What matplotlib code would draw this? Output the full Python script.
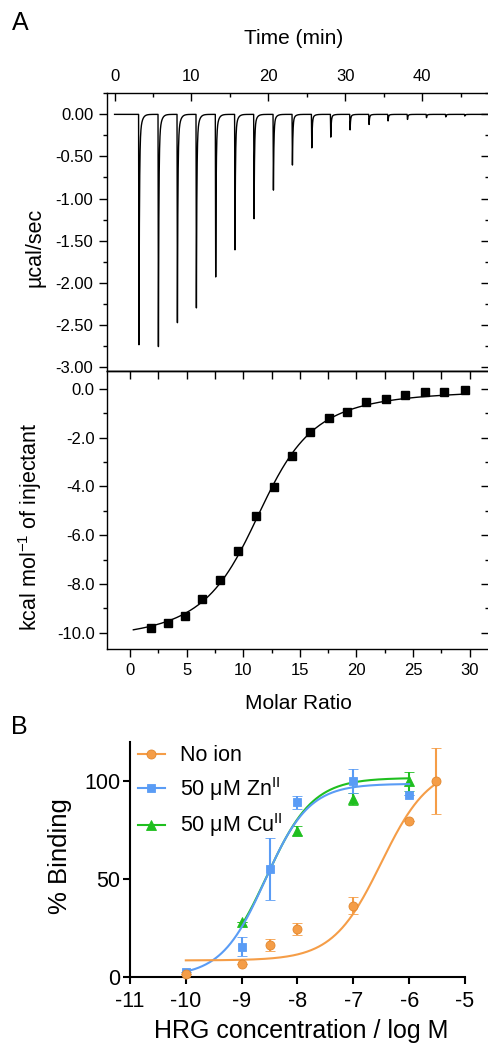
import numpy as np
import matplotlib
matplotlib.use('Agg')
import matplotlib.pyplot as plt
from matplotlib.ticker import MultipleLocator, FormatStrFormatter
from matplotlib.lines import Line2D

plt.rcParams['font.family'] = ['Liberation Sans', 'DejaVu Sans']
plt.rcParams['axes.unicode_minus'] = False
plt.rcParams['mathtext.fontset'] = 'custom'
plt.rcParams['mathtext.rm'] = 'Liberation Sans'

# ---- A: raw ITC thermogram (injection times in min, peak heights in ucal/sec)
inj_time = [3.12, 5.65, 8.12, 10.59, 13.10, 15.61, 18.09, 20.61, 23.08,
            25.60, 28.07, 30.58, 33.05, 35.52, 38.05, 40.52, 43.03, 45.50]
peak_depth = [-2.82, -2.76, -2.55, -2.30, -1.99, -1.61, -1.24, -0.90, -0.62,
              -0.41, -0.27, -0.19, -0.12, -0.08, -0.06, -0.04, -0.03, -0.02]

# ---- A: integrated heats
molar_ratio = [1.83, 3.36, 4.87, 6.37, 7.94, 9.53, 11.09, 12.68, 14.28,
               15.93, 17.55, 19.20, 20.86, 22.60, 24.31, 26.02, 27.73, 29.56]
heat = [-9.79, -9.59, -9.30, -8.62, -7.85, -6.65, -5.21, -4.04, -2.74,
        -1.76, -1.18, -0.94, -0.55, -0.41, -0.23, -0.12, -0.14, -0.05]
# one-site fit parameters (dH kcal/mol, n, 1/c)
fit_dH, fit_n, fit_r = -10.4, 11.9, 0.05

# ---- B: binding
logc_noion = [-10, -9, -8.5, -8, -7, -6, -5.52]
bind_noion = [1.4, 6.3, 16.2, 24.5, 36.3, 79.6, 100]
err_noion = [0, 0, 2.9, 3.0, 4.3, 0, 17]
logc_zn = [-10, -9, -8.5, -8, -7, -6]
bind_zn = [2.2, 15.3, 55.0, 89.1, 100, 92.7]
err_zn = [0, 4.9, 16, 3.4, 6.0, 0]
logc_cu = [-9, -8, -7, -6]
bind_cu = [27.8, 74.6, 90.8, 99.7]
err_cu = [0, 2.5, 3.2, 4.7]
# 4PL fits: bottom, top, logEC50, hill
fit_noion = (8.3, 108, -6.5, 1.0)
fit_zn = (0.0, 98.5, -8.58, 1.1)
fit_cu = (1.0, 101.5, -8.55, 1.05)

c_orange = '#F59D47'
c_blue = '#5A9CF5'
c_green = '#1FBF1F'

fig = plt.figure(figsize=(4.89, 10.43), dpi=100)

# ---------------- top: thermogram
ax1 = fig.add_axes([0.2194, 0.6443, 0.7806, 0.2662])
t = np.arange(0, 48.7, 0.004)
trace = np.zeros_like(t)
for ti, d in zip(inj_time, peak_depth):
    a = 0.05
    rise = (t >= ti) & (t < ti + a)
    trace[rise] += d * (t[rise] - ti) / a
    dec = t >= ti + a
    s = t[dec] - ti - a
    trace[dec] += d * (0.85 * np.exp(-s / 0.06) + 0.15 * np.exp(-s / 0.25))
ax1.plot(t, trace, color='k', lw=1.0)
ax1.set_xlim(-0.95, 48.7)
ax1.set_ylim(-3.05, 0.25)
ax1.xaxis.tick_top()
ax1.set_xticks([0, 10, 20, 30, 40])
ax1.xaxis.set_minor_locator(MultipleLocator(5))
ax1.yaxis.set_major_locator(MultipleLocator(0.5))
ax1.yaxis.set_minor_locator(MultipleLocator(0.25))
ax1.yaxis.set_major_formatter(FormatStrFormatter('%.2f'))
ax1.tick_params(axis='x', which='both', direction='in', top=True, bottom=False,
                labeltop=True, labelbottom=False, labelsize=12, pad=7)
ax1.tick_params(axis='y', which='both', direction='out', right=False, labelsize=12, pad=4)
ax1.tick_params(which='major', length=6, width=1)
ax1.tick_params(which='minor', length=3, width=1)
r1 = ax1.secondary_yaxis('right')
r1.yaxis.set_major_locator(MultipleLocator(0.5))
r1.yaxis.set_minor_locator(MultipleLocator(0.25))
r1.tick_params(which='both', direction='in', labelright=False, width=1)
r1.tick_params(which='major', length=6)
r1.tick_params(which='minor', length=3)
ax1.set_xlabel('Time (min)', fontsize=15, va='center')
ax1.xaxis.set_label_position('top')
ax1.xaxis.set_label_coords(0.488, 1.1775)
ax1.set_ylabel('µcal/sec', fontsize=15.5, va='center')
ax1.yaxis.set_label_coords(-0.1894, 0.4447)

# ---------------- bottom: integrated heats
ax2 = fig.add_axes([0.2194, 0.3775, 0.7806, 0.2668])
xf = np.linspace(0.3, 29.6, 300)
xr = xf / fit_n
yf = fit_dH * (0.5 + (1 - xr - fit_r) / (2 * np.sqrt((1 + xr + fit_r) ** 2 - 4 * xr)))
ax2.plot(xf, yf, color='k', lw=1.0)
ax2.plot(molar_ratio, heat, 's', color='k', ms=5.5)
ax2.set_xlim(-2.0, 31.7)
ax2.set_ylim(-10.68, 0.74)
ax2.xaxis.set_major_locator(MultipleLocator(5))
ax2.xaxis.set_minor_locator(MultipleLocator(2.5))
ax2.yaxis.set_major_locator(MultipleLocator(2))
ax2.yaxis.set_minor_locator(MultipleLocator(1))
ax2.yaxis.set_major_formatter(FormatStrFormatter('%.1f'))
ax2.tick_params(which='both', direction='out', labelsize=12)
ax2.tick_params(axis='x', pad=4)
ax2.tick_params(axis='y', pad=3)
ax2.tick_params(which='major', length=6, width=1)
ax2.tick_params(which='minor', length=3, width=1)
r2 = ax2.secondary_yaxis('right')
r2.yaxis.set_major_locator(MultipleLocator(2))
r2.yaxis.set_minor_locator(MultipleLocator(1))
r2.tick_params(which='both', direction='in', labelright=False, width=1)
r2.tick_params(which='major', length=6)
r2.tick_params(which='minor', length=3)
t2 = ax2.secondary_xaxis('top')
t2.xaxis.set_major_locator(MultipleLocator(5))
t2.xaxis.set_minor_locator(MultipleLocator(2.5))
t2.tick_params(which='both', direction='in', labeltop=False, width=1, length=6)
ax2.set_xlabel('Molar Ratio', fontsize=15, va='center')
ax2.xaxis.set_label_coords(0.502, -0.1955)
ax2.set_ylabel(r'kcal mol$^{\mathrm{-1}}$ of injectant', fontsize=15.5, va='center')
ax2.yaxis.set_label_coords(-0.2025, 0.4395)
for ax in (ax1, ax2, r1, r2, t2):
    for sp in ax.spines.values():
        sp.set_linewidth(1.0)

# ---------------- B: binding curves
ax3 = fig.add_axes([0.2658, 0.0636, 0.6851, 0.2253])


def four_pl(x, p):
    b, top, ec, h = p
    return b + (top - b) / (1 + 10 ** ((ec - x) * h))


series = [
    ('No ion', logc_noion, bind_noion, err_noion, fit_noion, c_orange, 'o', 6.5, 4),
    (r'50 $\mathrm{\mu}$M Zn$^{\mathrm{II}}$', logc_zn, bind_zn, err_zn, fit_zn, c_blue, 's', 6.0, 3),
    (r'50 $\mathrm{\mu}$M Cu$^{\mathrm{II}}$', logc_cu, bind_cu, err_cu, fit_cu, c_green, '^', 6.5, 2),
]
handles = []
for label, xs, ys, es, p, col, mk, ms, z in series:
    edge = '#E0872F' if mk == 'o' else col
    xc = np.linspace(xs[0], xs[-1], 300)
    ax3.plot(xc, four_pl(xc, p), color=col, lw=1.5, zorder=z)
    ax3.errorbar(xs, ys, yerr=es, fmt=mk, color=col, ms=ms, mec=edge,
                 mew=0.6, ecolor=col, elinewidth=1.5, capsize=3.4, capthick=1.5,
                 zorder=z + 0.5, clip_on=False)
    handles.append(Line2D([], [], color=col, lw=1.5, marker=mk, ms=ms,
                          mec=edge, mew=0.6, label=label))
ax3.set_xlim(-11, -5)
ax3.set_ylim(0, 120)
ax3.set_xticks([-11, -10, -9, -8, -7, -6, -5])
ax3.set_yticks([0, 50, 100])
for s in ('top', 'right'):
    ax3.spines[s].set_visible(False)
for s in ('left', 'bottom'):
    ax3.spines[s].set_linewidth(1.5)
ax3.tick_params(direction='out', length=5, width=1.5, labelsize=15.5)
ax3.tick_params(axis='x', pad=5)
ax3.tick_params(axis='y', pad=2)
ax3.set_xlabel('HRG concentration / log M', fontsize=18, va='center')
ax3.xaxis.set_label_coords(0.5125, -0.2315)
ax3.set_ylabel('% Binding', fontsize=18.5, va='center')
ax3.yaxis.set_label_coords(-0.209, 0.5136)
ax3.legend(handles=handles, loc='upper left', bbox_to_anchor=(0.024, 0.985),
           frameon=False, fontsize=15.5, borderpad=0, borderaxespad=0,
           handlelength=1.25, handletextpad=0.7, labelspacing=0.4)

fig.text(20 / 489, 1 - 23.5 / 1043, 'A', fontsize=18, ha='center', va='center')
fig.text(19.5 / 489, 1 - 726.5 / 1043, 'B', fontsize=18, ha='center', va='center')

fig.savefig('out.png', dpi=100)
